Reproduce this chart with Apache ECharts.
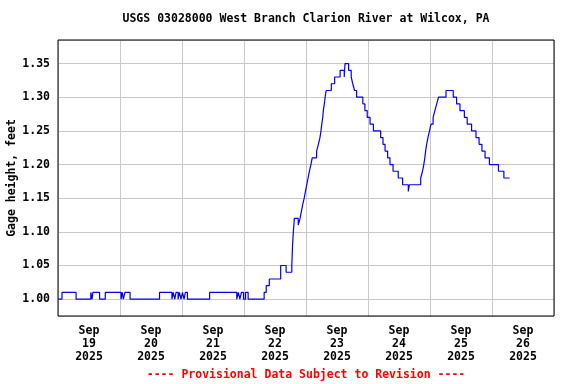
<!DOCTYPE html>
<html>
<head>
<meta charset="utf-8">
<script src="https://cdn.jsdelivr.net/npm/echarts@6/dist/echarts.min.js"></script>
<style>html,body{margin:0;padding:0;background:#fff}#c{width:576px;height:384px}</style>
</head>
<body>
<div id="c"></div>
<script>
// Hours since 2025-09-19 00:00 at which gage height changed
const hoursSinceStart = [
  0, 1.55, 7.0, 12.7, 13.2, 13.5, 16.1, 18.3, 24.4, 24.9, 25.3, 25.9, 27.9,
  39.3, 44.1, 44.6, 45.2, 45.7, 46.5, 47.0, 47.6, 48.2, 48.8, 49.3, 50.1,
  58.7, 69.2, 69.8, 70.4, 71.0, 71.8, 72.6, 73.6,
  79.8, 80.6, 81.8, 86.2, 88.3, 90.5, 90.8, 91.1, 91.5, 93.0, 93.7,
  94.2, 94.7, 95.3, 95.8, 96.3, 96.8, 97.3, 97.9, 98.4,
  100.1, 100.8, 101.4, 101.8, 102.1, 102.5, 102.7, 103.1, 103.4, 103.8,
  105.8, 107.1, 109.2, 110.8, 111.1, 112.5, 113.5, 114.1, 114.8, 115.6,
  118.0, 118.8, 119.7, 120.8, 122.1, 124.9, 125.8, 126.6, 127.6, 128.5,
  129.7, 131.7, 133.4, 135.6, 136.0,
  140.4, 141.1, 141.6, 142.0, 142.3, 142.7, 143.2, 143.8, 144.4, 145.2,
  145.9, 146.6, 147.3, 150.2, 153.0, 154.3, 155.6, 157.3, 158.4, 160.1,
  161.8, 163.0, 164.1, 165.3, 167.0, 170.5, 172.6, 174.8
];
const gageHeight = [
  1.00, 1.01, 1.00, 1.01, 1.00, 1.01, 1.00, 1.01, 1.00, 1.01, 1.00, 1.01, 1.00,
  1.01, 1.00, 1.01, 1.00, 1.01, 1.00, 1.01, 1.00, 1.01, 1.00, 1.01, 1.00,
  1.01, 1.00, 1.01, 1.00, 1.01, 1.00, 1.01, 1.00,
  1.01, 1.02, 1.03, 1.05, 1.04, 1.05, 1.08, 1.10, 1.12, 1.11, 1.12,
  1.13, 1.14, 1.15, 1.16, 1.17, 1.18, 1.19, 1.20, 1.21,
  1.22, 1.23, 1.24, 1.25, 1.26, 1.27, 1.28, 1.29, 1.30, 1.31,
  1.32, 1.33, 1.34, 1.33, 1.35, 1.34, 1.33, 1.32, 1.31, 1.30,
  1.29, 1.28, 1.27, 1.26, 1.25, 1.24, 1.23, 1.22, 1.21, 1.20,
  1.19, 1.18, 1.17, 1.16, 1.17,
  1.18, 1.19, 1.20, 1.21, 1.22, 1.23, 1.24, 1.25, 1.26, 1.27,
  1.28, 1.29, 1.30, 1.31, 1.30, 1.29, 1.28, 1.27, 1.26, 1.25,
  1.24, 1.23, 1.22, 1.21, 1.20, 1.19, 1.18, 1.18
];
const dayMonths = ['Sep','Sep','Sep','Sep','Sep','Sep','Sep','Sep'];
const dayNumbers = ['19','20','21','22','23','24','25','26'];
const dayYears = ['2025','2025','2025','2025','2025','2025','2025','2025'];

const titleText = 'USGS 03028000 West Branch Clarion River at Wilcox, PA';
const footText = '---- Provisional Data Subject to Revision ----';
const yName = 'Gage height, feet';

const FONT = '"DejaVu Sans Mono", "Liberation Mono", monospace';
const dayCats = dayMonths.map((m, i) => m + '\n' + dayNumbers[i] + '\n' + dayYears[i]);
const seriesData = hoursSinceStart.map((h, i) => [h, gageHeight[i]]);

const chart = echarts.init(document.getElementById('c'), null, {renderer: 'canvas'});
chart.setOption({
  animation: false,
  backgroundColor: '#fff',
  grid: {left: 58, right: 22, top: 40, bottom: 68, containLabel: false, outerBoundsMode: 'none',
         show: true, borderColor: '#000', borderWidth: 1, backgroundColor: 'transparent', z: 3},
  graphic: [
    {type: 'text', x: 306, y: 19, style: {text: titleText, align: 'center', verticalAlign: 'middle', textAlign: 'center', textVerticalAlign: 'middle', font: 'bold 11.5px ' + FONT, fill: '#000'}},
    {type: 'text', x: 306, y: 375, style: {text: footText, align: 'center', verticalAlign: 'middle', textAlign: 'center', textVerticalAlign: 'middle', font: 'bold 11.5px ' + FONT, fill: '#ff0000'}}
  ],
  xAxis: [
    {type: 'value', min: 0, max: 192, interval: 24, position: 'bottom',
     axisLine: {show: false}, axisTick: {show: false}, axisLabel: {show: false},
     splitLine: {show: true, lineStyle: {color: '#c8c8c8', width: 1}}},
    {type: 'category', data: dayCats, boundaryGap: true, position: 'bottom',
     axisLine: {show: false}, axisTick: {show: false}, splitLine: {show: false},
     axisLabel: {show: true, interval: 0, margin: 9, color: '#000', fontFamily: FONT, fontWeight: 'bold', fontSize: 11.5, lineHeight: 13}}
  ],
  yAxis: {
    type: 'value', min: 0.975, max: 1.385, splitNumber: 8, minInterval: 0.05, maxInterval: 0.05,
    name: yName, nameLocation: 'middle', nameGap: 40, nameRotate: 90, nameMoveOverlap: false,
    nameTextStyle: {color: '#000', fontFamily: FONT, fontWeight: 'bold', fontSize: 11.5},
    axisLine: {show: false}, axisTick: {show: false},
    axisLabel: {show: true, margin: 8, color: '#000', fontFamily: FONT, fontWeight: 'bold', fontSize: 11.5,
      showMinLabel: false, showMaxLabel: false, formatter: v => v.toFixed(2)},
    splitLine: {show: true, lineStyle: {color: '#c8c8c8', width: 1}}
  },
  series: [{
    type: 'line', xAxisIndex: 0, yAxisIndex: 0, step: 'end', data: seriesData,
    showSymbol: false, symbol: 'none', lineStyle: {color: '#0000ee', width: 1.2}, z: 5
  }]
});
</script>
</body>
</html>
